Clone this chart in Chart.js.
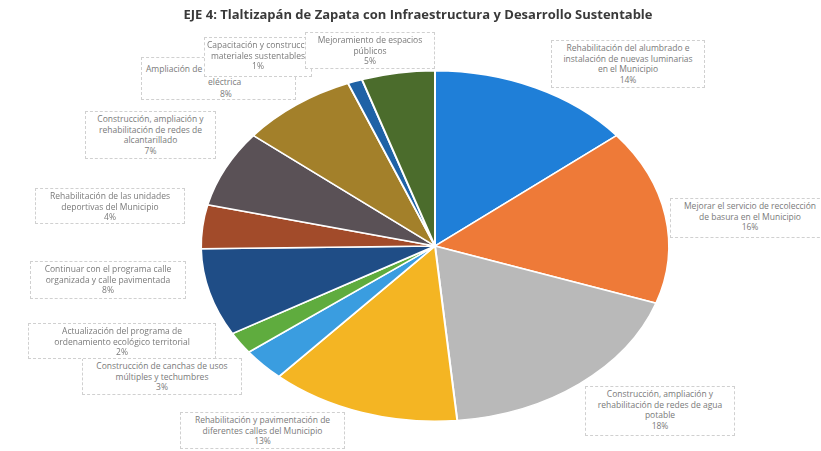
<!DOCTYPE html>
<html>
<head>
<meta charset="utf-8">
<script src="https://cdn.jsdelivr.net/npm/chart.js@4.4.0/dist/chart.umd.min.js"></script>
<style>
  body { margin:0; background:#fff; overflow:hidden; }
  #wrap { position:relative; width:821px; height:451px; }
  #titulo { position:absolute; left:0; width:836px; top:5px; text-align:center;
    font-family:"Open Sans",sans-serif; font-weight:bold; font-size:13px; color:#3a3a3a; }
  .lbl { position:absolute; background:#fff; border:1px dashed #d0d0d0; font-family:"Open Sans",sans-serif;
    font-size:8.5px; line-height:10.5px; color:#7a7a7a; text-align:center; padding:2px 2px; box-sizing:border-box;
    white-space:nowrap; overflow:hidden; }
</style>
</head>
<body>
<div id="wrap">
  <canvas id="pie" width="821" height="451"></canvas>
  <div id="titulo">EJE 4: Tlaltizapán de Zapata con Infraestructura y Desarrollo Sustentable</div>
</div>
<script>
var categorias = [
  ["Rehabilitación del alumbrado e", "instalación de nuevas luminarias", "en el Municipio"],
  ["Mejorar el servicio de recolección", "de basura en el Municipio"],
  ["Construcción, ampliación y", "rehabilitación de redes de agua", "potable"],
  ["Rehabilitación y pavimentación de", "diferentes calles del Municipio"],
  ["Construcción de canchas de usos", "múltiples y techumbres"],
  ["Actualización del programa de", "ordenamiento ecológico territorial"],
  ["Continuar con el programa calle", "organizada y calle pavimentada"],
  ["Rehabilitación de las unidades", "deportivas del Municipio"],
  ["Construcción, ampliación y", "rehabilitación de redes de", "alcantarillado"],
  ["Ampliación de la red", "eléctrica"],
  ["Capacitación y construcción con", "materiales sustentables"],
  ["Mejoramiento de espacios", "públicos"]
];
var porcentajes = [14, 16, 18, 13, 3, 2, 8, 4, 7, 8, 1, 5];
var colores = ['#1f7fd8', '#ee7a38', '#b9b9b9', '#f4b523', '#3a9de0', '#5fac3e',
               '#1f4d86', '#a24b2a', '#5a5156', '#a3802a', '#1f62a6', '#4b6c2c'];

// cajas de etiquetas: left, top, width, height
var cajas = [
  [551, 40, 154, 48],
  [670, 198, 160, 40],
  [585, 386, 150, 50],
  [180, 412, 165, 37],
  [82, 358, 160, 37],
  [28, 323, 188, 36],
  [30, 261, 156, 38],
  [35, 188, 150, 36],
  [85, 111, 131, 48],
  [141, 57, 155, 43],
  [204, 37, 108, 40],
  [305, 32, 130, 37]
];

var cx = 435, rx = 235, ry = 176;

var elipse = {
  id: 'elipse',
  beforeDatasetsDraw: function (chart) {
    var ctx = chart.ctx;
    ctx.save();
    ctx.translate(cx, 0);
    ctx.scale(rx / ry, 1);
    ctx.translate(-cx, 0);
  },
  afterDatasetsDraw: function (chart) {
    chart.ctx.restore();
  }
};

var ct = document.getElementById("pie");
var grafica = new Chart(ct, {
  type: 'pie',
  data: {
    labels: categorias.map(function (c) { return c.join(' '); }),
    datasets: [{
      data: porcentajes,
      backgroundColor: colores,
      borderColor: '#ffffff',
      borderWidth: 1.5
    }]
  },
  options: {
    responsive: false,
    animation: false,
    layout: { padding: { left: cx - ry, right: 821 - cx - ry, top: 70, bottom: 29 } },
    plugins: { legend: { display: false }, tooltip: { enabled: false } }
  },
  plugins: [elipse]
});

var wrap = document.getElementById("wrap");
for (var i = 0; i < categorias.length; i++) {
  var d = document.createElement("div");
  d.className = "lbl";
  var b = cajas[i];
  d.style.left = b[0] + "px";
  d.style.top = b[1] + "px";
  d.style.width = b[2] + "px";
  d.style.height = b[3] + "px";
  d.innerHTML = categorias[i].join("<br>") + "<br>" + porcentajes[i] + "%";
  if (i == 9) {
    // la caja de Capacitación tapa parte de esta etiqueta, como en el original
    d.style.textAlign = "left";
    d.style.padding = "5px 2px 0 4px";
    d.style.lineHeight = "12.5px";
    d.innerHTML = categorias[i][0] + "<br><span style='padding-left:62px'>" + categorias[i][1] +
      "</span><br><span style='padding-left:74px'>" + porcentajes[i] + "%</span>";
  }
  wrap.appendChild(d);
}
</script>
</body>
</html>
